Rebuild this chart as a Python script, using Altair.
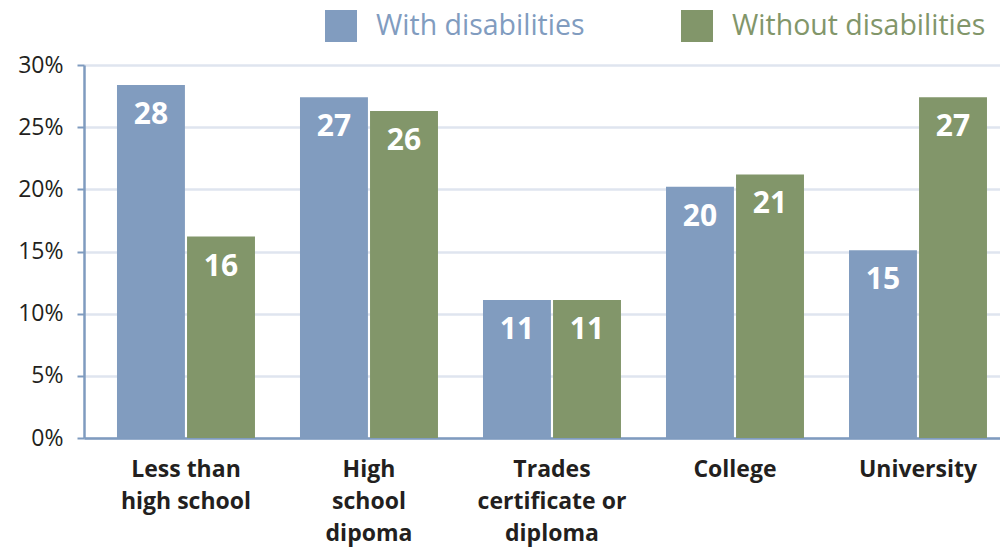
import altair as alt
import pandas as pd

categories = ["Less than\nhigh school", "High\nschool\ndipoma", "Trades\ncertificate or\ndiploma", "College", "University"]
series = ["With disabilities", "Without disabilities"]
with_dis = [28.4, 27.4, 11.1, 20.2, 15.1]
without_dis = [16.2, 26.3, 11.1, 21.2, 27.4]
colors = ["#819cbf", "#82966a"]
y_ticks = [0, 5, 10, 15, 20, 25, 30]

rows = []
for c, a, b in zip(categories, with_dis, without_dis):
    rows.append({"cat": c, "series": series[0], "value": a})
    rows.append({"cat": c, "series": series[1], "value": b})
df = pd.DataFrame(rows)

FONT = "Open Sans"

x_enc = alt.X("cat:N", sort=categories, title=None,
              scale=alt.Scale(paddingInner=0.246, paddingOuter=0.1257, align=0.717),
              axis=alt.Axis(labelExpr="split(datum.label, '\\n')", labelAngle=0,
                            labelFontSize=23, labelFont=FONT, labelFontWeight="bold",
                            labelColor="#231f20", labelLineHeight=32, labelPadding=20,
                            ticks=False, domainColor="#7f9bbf", domainWidth=2.5,
                            labelBaseline="top"))
xoff = alt.XOffset("series:N", sort=series, scale=alt.Scale(paddingInner=0.03))

bars = alt.Chart(df).mark_bar().encode(
    x=x_enc,
    xOffset=xoff,
    y=alt.Y("value:Q", title=None,
            scale=alt.Scale(domain=[0, 30], nice=False),
            axis=alt.Axis(values=y_ticks, labelExpr="datum.value + '%'",
                          labelFontSize=23, labelFont=FONT, labelColor="#231f20",
                          labelPadding=14, tickSize=7, tickColor="#7f9bbf", tickWidth=2,
                          domainColor="#7f9bbf", domainWidth=2.5,
                          grid=True, gridColor="#dfe5ef", gridWidth=2.5)),
    color=alt.Color("series:N", sort=series, title=None,
                    scale=alt.Scale(domain=series, range=colors),
                    legend=alt.Legend(orient="none", direction="horizontal",
                                      legendX=241, legendY=-55,
                                      symbolType="square", symbolSize=1024,
                                      symbolStrokeWidth=0, symbolOpacity=1,
                                      labelFontSize=28.5, labelFont=FONT,
                                      labelOffset=19, columnPadding=96,
                                      labelLimit=500, padding=0,
                                      labelColor={"expr": "datum.value == 'With disabilities' ? '#819cbf' : '#82966a'"})),
)

labels = alt.Chart(df).mark_text(
    color="white", fontSize=30, font=FONT, fontWeight="bold",
    baseline="top", dy=15,
).encode(
    x=alt.X("cat:N", sort=categories),
    xOffset=xoff,
    y="value:Q",
    text=alt.Text("value:Q", format=".0f"),
)

chart = alt.layer(bars, labels).properties(
    width=916, height=373,
    autosize=alt.AutoSizeParams(type="none"),
    padding={"left": 76, "top": 57, "right": 0, "bottom": 110},
).configure_view(stroke=None).configure_axis(domainCap="butt")

chart.save("out.html", embed_options={"renderer": "svg", "actions": False})
